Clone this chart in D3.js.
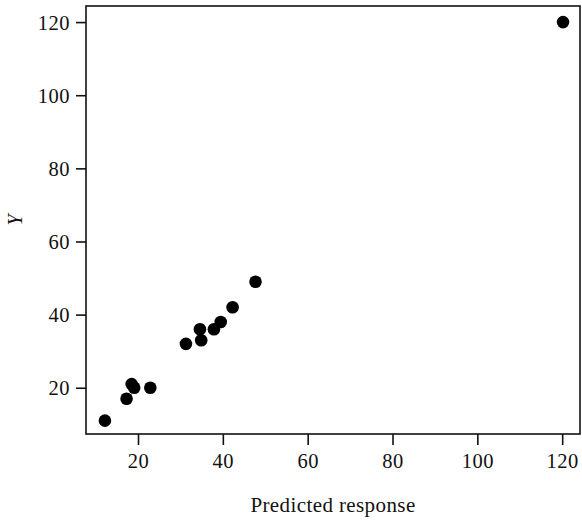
<!DOCTYPE html>
<html><head><meta charset="utf-8">
<script src="https://cdn.jsdelivr.net/npm/d3@7"></script>
<style>body{margin:0;background:#fff}svg{display:block}text{font-family:"Liberation Serif","DejaVu Serif",serif;fill:#111}</style>
</head><body>
<svg id="c" width="582" height="521"></svg>
<script>
const predicted = [12.2, 17.3, 18.5, 19.1, 22.9, 31.3, 34.6, 34.9, 37.9, 39.5, 42.3, 47.7, 120.2];
const observed  = [11, 17, 21, 20, 20, 32, 36, 33, 36, 38, 42, 49, 120];
const xTicks = [20, 40, 60, 80, 100, 120];
const yTicks = [20, 40, 60, 80, 100, 120];
const xLabel = "Predicted response";
const yLabel = "Y";

const svg = d3.select("#c");
const m = {left: 86, top: 6, right: 2, bottom: 87};
const W = 582 - m.left - m.right, H = 521 - m.top - m.bottom;
const x = d3.scaleLinear().domain([7.74, 124.2]).range([0, W]);
const y = d3.scaleLinear().domain([7.35, 124.4]).range([H, 0]);
const g = svg.append("g").attr("transform", `translate(${m.left},${m.top})`);

const xa = g.append("g").attr("transform", `translate(0,${H})`)
  .call(d3.axisBottom(x).tickValues(xTicks).tickSize(11).tickPadding(8).tickFormat(d3.format("d")));
const ya = g.append("g")
  .call(d3.axisLeft(y).tickValues(yTicks).tickSize(10).tickPadding(6).tickFormat(d3.format("d")));
[xa, ya].forEach(a => {
  a.select(".domain").remove();
  a.selectAll("line").attr("stroke", "#111").attr("stroke-width", 1.6);
  a.selectAll("text").style("font-size", "20.5px").style("letter-spacing", "0.5px").attr("fill", "#111");
});
ya.selectAll("text").attr("dy", "0.34em");

g.append("rect").attr("x", 0).attr("y", 0).attr("width", W).attr("height", H)
  .attr("fill", "none").attr("stroke", "#111").attr("stroke-width", 1.6);

g.selectAll("circle.pt").data(predicted.map((p, i) => [p, observed[i]])).enter()
  .append("circle").attr("class", "pt")
  .attr("cx", d => x(d[0])).attr("cy", d => y(d[1])).attr("r", 6.3).attr("fill", "#000");

svg.append("text").attr("x", m.left + W / 2).attr("y", 512).attr("text-anchor", "middle")
  .style("font-size", "21px").style("letter-spacing", "0.4px").text(xLabel);
svg.append("text").attr("transform", `translate(22,${m.top + H / 2}) rotate(-90)`)
  .attr("text-anchor", "middle").style("font-size", "20px").style("font-style", "italic").text(yLabel);
</script>
</body></html>
